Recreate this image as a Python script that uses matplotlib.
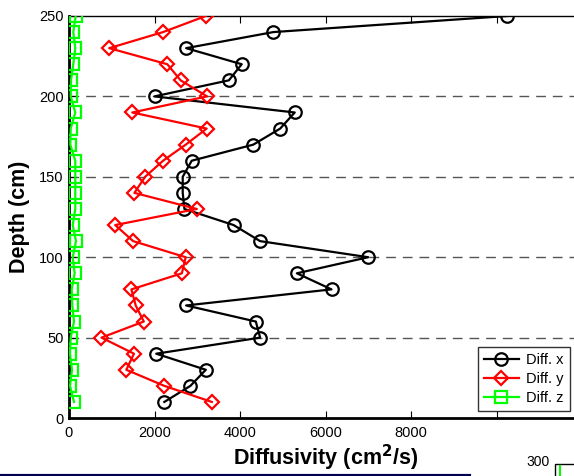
import matplotlib
matplotlib.use("Agg")
import matplotlib.pyplot as plt
from matplotlib.patches import Rectangle
from matplotlib.lines import Line2D

plt.rcParams['font.family'] = ['Liberation Sans', 'DejaVu Sans']

depth = [250, 240, 230, 220, 210, 200, 190, 180, 170, 160, 150, 140, 130,
         120, 110, 100, 90, 80, 70, 60, 50, 40, 30, 20, 10]

diff_x = [10250, 4780, 2740, 4040, 3740, 2000, 5280, 4940, 4310, 2870, 2660,
          2660, 2700, 3850, 4470, 7000, 5330, 6140, 2740, 4370, 4470, 2040,
          3200, 2840, 2230]

diff_y = [3200, 2200, 940, 2300, 2610, 3230, 1480, 3220, 2730, 2200, 1780,
          1530, 2990, 1080, 1500, 2730, 2640, 1460, 1560, 1750, 760, 1520,
          1340, 2230, 3340]

diff_z = [157, 100, 147, 100, 47, 40, 147, 40, 30, 147, 147, 147, 147, 87,
          164, 87, 133, 63, 77, 117, 40, 23, 70, 23, 117]

xticks = [0, 2000, 4000, 6000, 8000, 10000]
xticklabels = ['0', '2000', '4000', '6000', '8000', '']
yticks = [0, 50, 100, 150, 200, 250]

fig = plt.figure(figsize=(5.74, 4.76), dpi=100)
ax = fig.add_axes([0.1202, 0.1218, 0.8938, 0.8446])

ms = 9
mew = 1.6
lw = 1.6
ax.plot(diff_x, depth, color='black', marker='o', ms=ms, mfc='none',
        mew=mew, lw=lw, label='Diff. x', zorder=3)
ax.plot(diff_y, depth, color='red', marker='D', ms=7.5, mfc='none',
        mew=mew, lw=lw, label='Diff. y', zorder=3)
ax.plot(diff_z, depth, color='#00ff00', marker='s', ms=8, mfc='none',
        mew=mew, lw=lw, label='Diff. z', zorder=3)

ax.set_xlim(0, 12000)
ax.set_ylim(0, 250)
ax.set_xticks(xticks)
ax.set_xticklabels(xticklabels)
ax.set_yticks(yticks)
ax.tick_params(direction='in', length=5, width=0.8, labelsize=10.5,
               top=True, right=True, pad=4)
ax.tick_params(axis='x', pad=6)
for side in ['left', 'bottom']:
    ax.spines[side].set_linewidth(2.0)
for side in ['top', 'right']:
    ax.spines[side].set_linewidth(1.0)

for yv in [50, 100, 150, 200]:
    ax.axhline(yv, color='#555555', lw=1.0, ls=(0, (7, 5)), zorder=1)

ax.set_xlabel('Diffusivity (cm$^\\mathbf{2}$/s)', fontsize=15.5,
              fontweight='bold', labelpad=2)
ax.set_ylabel('Depth (cm)', fontsize=15.5, fontweight='bold', labelpad=6)

leg = ax.legend(loc='lower right', fontsize=10.5, frameon=True, fancybox=False,
                edgecolor='black', borderpad=0.4, handlelength=2.4,
                labelspacing=0.35, handletextpad=0.5,
                bbox_to_anchor=(0.99, 0.0))
leg.get_frame().set_linewidth(1.0)

# neighbouring panel fragments along the lower edge
fig.add_artist(Line2D([0, 469 / 574], [0.5 / 476, 0.5 / 476],
                      transform=fig.transFigure, color='#000050', lw=3))
fig.text(526 / 574, (476 - 462) / 476, '300', fontsize=10, va='center',
         ha='left')
fig.add_artist(Rectangle((555 / 574, -0.01), 0.05, (476 - 464) / 476 + 0.01,
                         transform=fig.transFigure, fill=False,
                         edgecolor='black', lw=1.0))
fig.add_artist(Line2D([560 / 574, 560 / 574], [0, (476 - 466) / 476],
                      transform=fig.transFigure, color='#00ff00', lw=1.5))

fig.savefig('out.png', dpi=100)
